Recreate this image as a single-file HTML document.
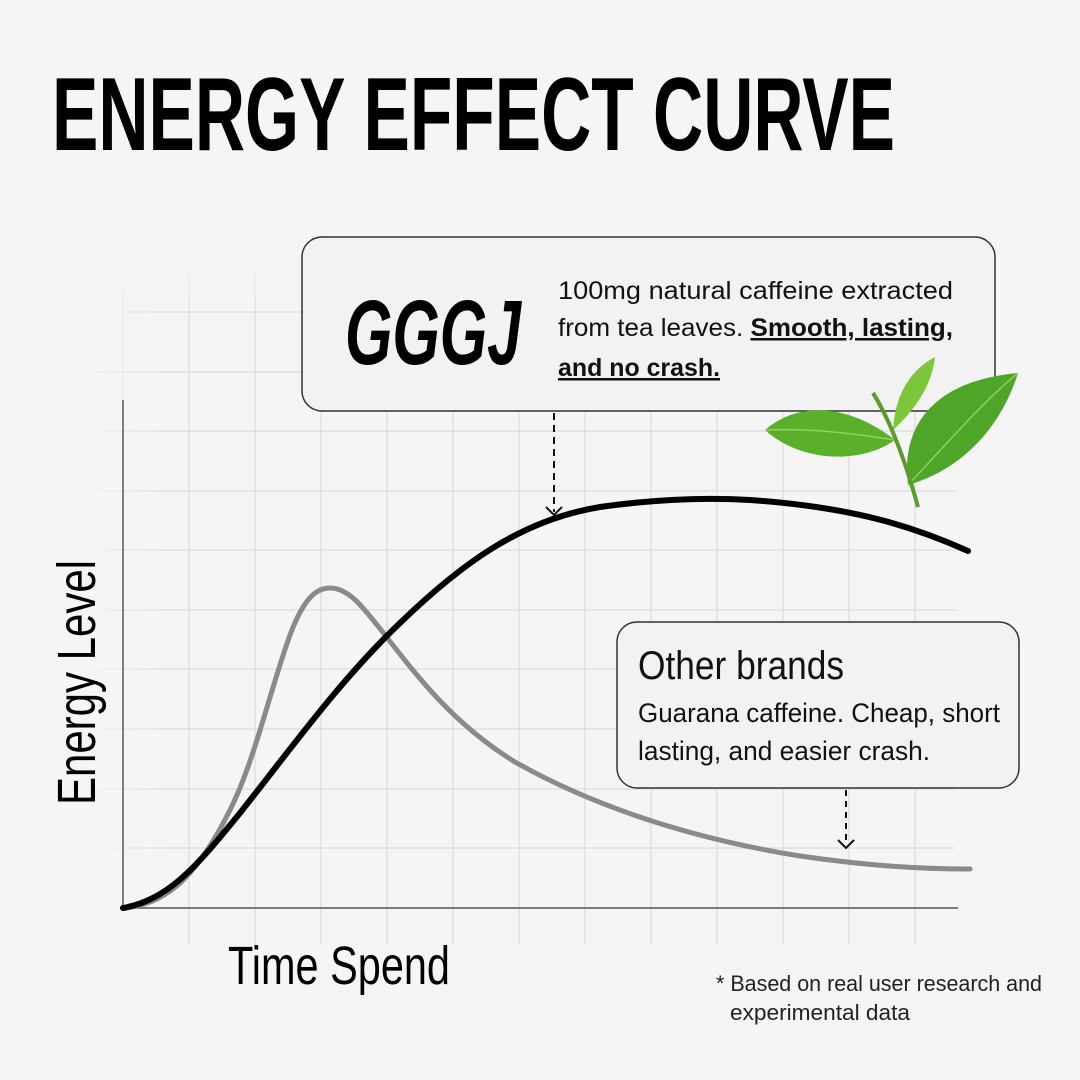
<!DOCTYPE html>
<html><head><meta charset="utf-8"><style>
html,body{margin:0;padding:0;background:#f5f5f5;}
svg{display:block;}
text{font-family:"Liberation Sans Narrow","Liberation Sans",sans-serif;}
</style></head><body>
<svg width="1080" height="1080" viewBox="0 0 1080 1080" xmlns="http://www.w3.org/2000/svg">
<defs>
<linearGradient id="fadeL" x1="0" y1="0" x2="1" y2="0">
<stop offset="0" stop-color="#f5f5f5" stop-opacity="1"/><stop offset="0.1" stop-color="#f5f5f5" stop-opacity="0"/>
</linearGradient>
<linearGradient id="fadeT" x1="0" y1="0" x2="0" y2="1">
<stop offset="0" stop-color="#f5f5f5" stop-opacity="1"/><stop offset="0.08" stop-color="#f5f5f5" stop-opacity="0"/>
</linearGradient>
</defs>
<rect width="1080" height="1080" fill="#f5f5f5"/>
<text x="52" y="150" font-size="104" font-weight="bold" textLength="843" lengthAdjust="spacingAndGlyphs" fill="#000">ENERGY EFFECT CURVE</text>
<g stroke="#dcdcdc" stroke-width="1.3">
<line x1="189" y1="270" x2="189" y2="945"/><line x1="255" y1="270" x2="255" y2="945"/><line x1="321" y1="270" x2="321" y2="945"/><line x1="387" y1="270" x2="387" y2="945"/><line x1="453" y1="270" x2="453" y2="945"/><line x1="519" y1="270" x2="519" y2="945"/><line x1="585" y1="270" x2="585" y2="945"/><line x1="651" y1="270" x2="651" y2="945"/><line x1="717" y1="270" x2="717" y2="945"/><line x1="783" y1="270" x2="783" y2="945"/><line x1="849" y1="270" x2="849" y2="945"/><line x1="915" y1="270" x2="915" y2="945"/>
<line x1="123" y1="270" x2="123" y2="400"/>
<line x1="90" y1="848" x2="955" y2="848"/><line x1="90" y1="789" x2="955" y2="789"/><line x1="90" y1="729" x2="955" y2="729"/><line x1="90" y1="669" x2="955" y2="669"/><line x1="90" y1="610" x2="955" y2="610"/><line x1="90" y1="550" x2="955" y2="550"/><line x1="90" y1="491" x2="955" y2="491"/><line x1="90" y1="431" x2="955" y2="431"/><line x1="90" y1="372" x2="955" y2="372"/><line x1="90" y1="312" x2="955" y2="312"/>
</g>
<rect x="80" y="260" width="900" height="690" fill="url(#fadeL)"/>
<rect x="80" y="260" width="900" height="690" fill="url(#fadeT)"/>
<line x1="123" y1="400" x2="123" y2="908" stroke="#555" stroke-width="1.5"/>
<line x1="123" y1="908" x2="958" y2="908" stroke="#555" stroke-width="1.5"/>
<path d="M123,908 C170,905 200,870 230,810 C255,760 270,690 290,635 C305,595 318,588 330,588 C350,588 365,610 385,635 C420,680 455,725 515,762 C600,810 700,840 800,856 C870,866 920,869 970,869" fill="none" stroke="#8a8a8a" stroke-width="5" stroke-linecap="round"/>
<path d="M123,908 C170,900 200,862 240,813 C290,750 340,680 400,623 C460,565 520,520 600,507 C650,500 700,497 750,500 C850,507 910,525 968,551" fill="none" stroke="#000" stroke-width="6" stroke-linecap="round"/>
<rect x="302" y="237" width="693" height="174" rx="20" fill="#f1f1f1" fill-opacity="0.95" stroke="#333" stroke-width="1.5"/>
<text x="345" y="364" font-size="92" font-weight="bold" font-style="italic" textLength="176" lengthAdjust="spacingAndGlyphs">GGGJ</text>
<g font-size="25" fill="#111">
<text x="558" y="299" textLength="395" lengthAdjust="spacingAndGlyphs">100mg natural caffeine extracted</text>
<text x="558" y="336" textLength="395" lengthAdjust="spacingAndGlyphs">from tea leaves. <tspan font-weight="bold" text-decoration="underline">Smooth, lasting,</tspan></text>
<text x="558" y="376" font-weight="bold" text-decoration="underline" textLength="162" lengthAdjust="spacingAndGlyphs">and no crash.</text>
</g>
<line x1="554" y1="413" x2="554" y2="512" stroke="#111" stroke-width="2" stroke-dasharray="7,5"/>
<polyline points="546,507 554,515 562,507" fill="none" stroke="#111" stroke-width="2"/>
<g>
<path d="M765,430 C800,400 850,405 895,440 C860,465 800,462 765,430Z" fill="#5bb02a"/>
<path d="M765,430 C820,428 860,435 895,440" stroke="#8fd060" stroke-width="1.5" fill="none"/>
<path d="M908,485 C900,420 940,380 1018,373 C1000,430 960,470 908,485Z" fill="#4fa528"/>
<path d="M908,485 C950,440 985,400 1018,373" stroke="#8fd060" stroke-width="1.5" fill="none"/>
<path d="M893,430 C895,395 910,370 935,357 C932,385 915,410 893,430Z" fill="#7cc63c"/>
<path d="M873,393 C890,420 905,460 918,507" stroke="#5a9a30" stroke-width="4" fill="none"/>
</g>
<rect x="617" y="622" width="402" height="166" rx="20" fill="#f1f1f1" fill-opacity="0.95" stroke="#333" stroke-width="1.5"/>
<text x="638" y="679" font-size="40" textLength="206" lengthAdjust="spacingAndGlyphs" fill="#111">Other brands</text>
<text x="638" y="722" font-size="27" textLength="362" lengthAdjust="spacingAndGlyphs" fill="#111">Guarana caffeine. Cheap, short</text>
<text x="638" y="760" font-size="27" textLength="292" lengthAdjust="spacingAndGlyphs" fill="#111">lasting, and easier crash.</text>
<line x1="846" y1="790" x2="846" y2="845" stroke="#111" stroke-width="2" stroke-dasharray="6,5"/>
<polyline points="838,840 846,848 854,840" fill="none" stroke="#111" stroke-width="2"/>
<text transform="translate(95,805) rotate(-90)" font-size="54" textLength="245" lengthAdjust="spacingAndGlyphs" fill="#000">Energy Level</text>
<text x="228" y="984" font-size="54" textLength="222" lengthAdjust="spacingAndGlyphs" fill="#000">Time Spend</text>
<text x="716" y="991" font-size="22" textLength="326" lengthAdjust="spacingAndGlyphs" fill="#222">* Based on real user research and</text>
<text x="730" y="1020" font-size="22" textLength="180" lengthAdjust="spacingAndGlyphs" fill="#222">experimental data</text>
</svg>
</body></html>
